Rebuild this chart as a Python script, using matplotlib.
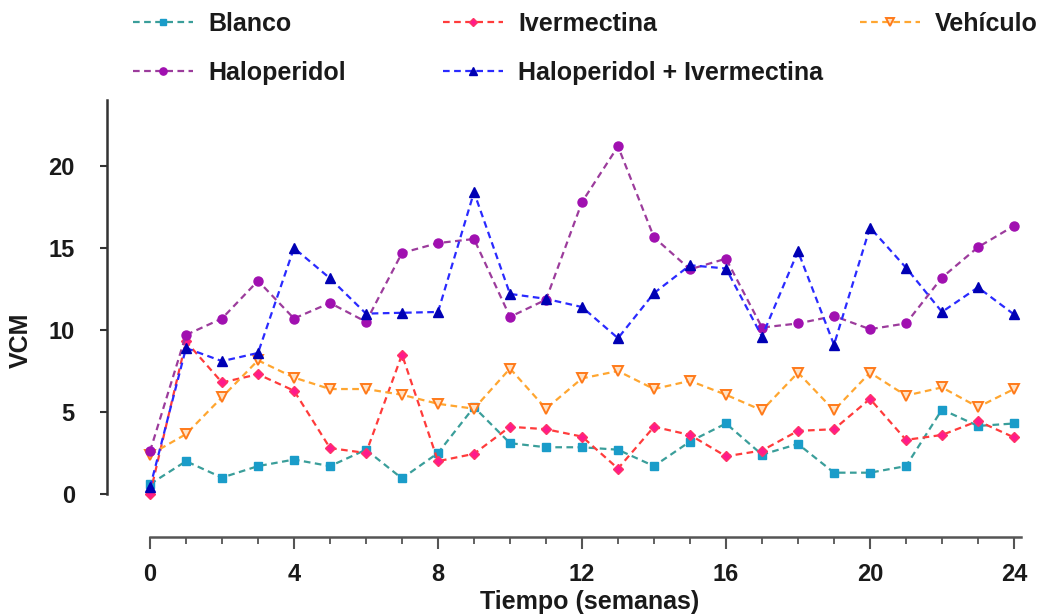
import matplotlib
matplotlib.use('Agg')
import matplotlib.pyplot as plt
from matplotlib.ticker import MultipleLocator, FixedLocator

plt.rcParams['font.family'] = ['Liberation Sans', 'DejaVu Sans']
plt.rcParams['font.weight'] = 'bold'

# semanas 0..24
weeks = list(range(25))

blanco = [0.6, 2.0, 1.0, 1.7, 2.1, 1.7, 2.7, 0.95, 2.5, 5.3, 3.1, 2.85, 2.85,
          2.7, 1.7, 3.2, 4.3, 2.4, 3.05, 1.3, 1.3, 1.7, 5.15, 4.15, 4.3]
ivermectina = [0.0, 9.3, 6.8, 7.3, 6.3, 2.8, 2.5, 8.5, 2.0, 2.45, 4.1, 3.95, 3.5,
               1.55, 4.1, 3.6, 2.3, 2.65, 3.85, 3.95, 5.8, 3.3, 3.6, 4.45, 3.45]
vehiculo = [2.4, 3.65, 5.9, 8.15, 7.1, 6.4, 6.4, 6.05, 5.5, 5.2, 7.65, 5.2, 7.05,
            7.5, 6.4, 6.9, 6.05, 5.1, 7.4, 5.1, 7.4, 6.0, 6.5, 5.3, 6.4]
haloperidol = [2.6, 9.7, 10.7, 13.0, 10.7, 11.65, 10.5, 14.7, 15.3, 15.55, 10.8, 11.85, 17.8,
               21.2, 15.65, 13.7, 14.35, 10.15, 10.4, 10.85, 10.05, 10.4, 13.2, 15.05, 16.35]
halo_iver = [0.4, 8.9, 8.1, 8.6, 15.0, 13.15, 11.0, 11.05, 11.1, 18.4, 12.2, 11.9, 11.4,
             9.5, 12.25, 13.95, 13.75, 9.6, 14.8, 9.1, 16.25, 13.8, 11.1, 12.6, 10.95]

W, H = 1048, 615
fig = plt.figure(figsize=(W / 100, H / 100), dpi=100)
ax = fig.add_axes([106.8 / W, 121 / H, 914.4 / W, 393.6 / H])

dash = (3, 2)
common = dict(lw=1.6, dashes=dash, clip_on=False)
h1, = ax.plot(weeks, blanco, color='#3a9e9a', marker='s', ms=6,
              mfc='#1a9cc9', mec='#1a9cc9', label='Blanco', **common)
h2, = ax.plot(weeks, ivermectina, color='#ff3b3b', marker='D', ms=5.5,
              mfc='#ff1a8c', mec='#ff3366', label='Ivermectina', **common)
h3, = ax.plot(weeks, vehiculo, color='#ffa630', marker='v', ms=7,
              mfc='#ffe2c4', mec='#ff7a1a', mew=1.4, label='Vehículo', **common)
h4, = ax.plot(weeks, haloperidol, color='#9c3c9c', marker='o', ms=6.5,
              mfc='#a010b0', mec='#a010b0', label='Haloperidol', **common)
h5, = ax.plot(weeks, halo_iver, color='#2a2aff', marker='^', ms=7.5,
              mfc='#0000b4', mec='#0000b4', label='Haloperidol + Ivermectina', **common)

ax.set_xlim(-1.2, 24.2)
ax.set_ylim(0, 24)

for s in ['top', 'right']:
    ax.spines[s].set_visible(False)
ax.spines['left'].set_bounds(0, 24)
ax.spines['left'].set_color('#333333')
ax.spines['left'].set_linewidth(1.8)
ax.spines['bottom'].set_position(('outward', 31))
ax.spines['bottom'].set_bounds(0, 24.2)
ax.spines['bottom'].set_color('#555555')
ax.spines['bottom'].set_linewidth(1.8)

ax.set_yticks([0, 5, 10, 15, 20])
ax.xaxis.set_major_locator(MultipleLocator(4))
ax.xaxis.set_minor_locator(FixedLocator(weeks))
ax.tick_params(axis='y', length=5, width=1.5, color='#333333', pad=18,
               labelsize=17, labelcolor='#1a1a1a')
ax.tick_params(axis='x', which='major', length=8.6, width=1.5, color='#555555',
               pad=10, labelsize=17, labelcolor='#1a1a1a')
ax.tick_params(axis='x', which='minor', length=5, width=1.3, color='#555555')

ax.set_ylabel('VCM', fontsize=18, fontweight='bold', color='#1a1a1a')
ax.yaxis.set_label_coords(-0.0807, 0.391)
ax.set_xlabel('Tiempo (semanas)', fontsize=18, fontweight='bold', color='#1a1a1a')
ax.xaxis.set_label_coords(0.528, -0.243)

leg_kw = dict(loc='upper left', frameon=False, fontsize=18, handlelength=2.4,
              handletextpad=0.6, labelspacing=1.0, borderpad=0, borderaxespad=0,
              markerscale=0.8)
col_x = [133, 443, 860]
cols = [[h1, h4], [h2, h5], [h3]]
for x, hs in zip(col_x, cols):
    lg = fig.legend(handles=hs, bbox_to_anchor=(x / W, 1 - 12 / H), **leg_kw)
    for t in lg.get_texts():
        t.set_color('#1a1a1a')

fig.savefig('out.png', dpi=100)
